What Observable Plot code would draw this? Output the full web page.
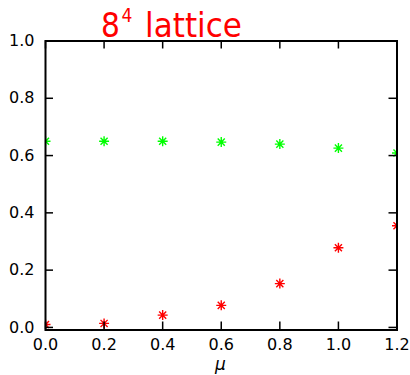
<!DOCTYPE html>
<html>
<head>
<meta charset="utf-8">
<script src="https://cdn.jsdelivr.net/npm/d3@7"></script>
<script src="https://cdn.jsdelivr.net/npm/@observablehq/plot@0.6"></script>
<style>
  html, body { margin: 0; padding: 0; background: #fff; }
  #chart svg { display: block; }
</style>
</head>
<body>
<div id="chart"></div>
<script>
// chemical potential values
const mu = [0, 0.2, 0.4, 0.6, 0.8, 1.0, 1.2];
// upper series (green)
const greenValues = [0.650, 0.650, 0.650, 0.647, 0.640, 0.626, 0.609];
// lower series (red)
const redValues = [0.010, 0.014, 0.043, 0.077, 0.153, 0.278, 0.355];
// axis ticks
const xTicks = [0, 0.2, 0.4, 0.6, 0.8, 1.0, 1.2];
const yTicks = [0, 0.2, 0.4, 0.6, 0.8, 1.0];

const greenData = mu.map((m, i) => ({mu: m, v: greenValues[i]}));
const redData = mu.map((m, i) => ({mu: m, v: redValues[i]}));

// eight-armed asterisk: a plus overlaid with a cross
const asterisk = {
  draw(context, size) {
    const r = Math.sqrt(size / Math.PI);
    const d = r * Math.SQRT1_2;
    context.moveTo(-r, 0); context.lineTo(r, 0);
    context.moveTo(0, -r); context.lineTo(0, r);
    context.moveTo(-d, -d); context.lineTo(d, d);
    context.moveTo(-d, d); context.lineTo(d, -d);
  }
};

const font = "DejaVu Sans, sans-serif";
const W = 410, H = 375;
const mL = 45, mR = 13.5, mT = 40.5, mB = 45.5;
const frameW = W - mL - mR, frameH = H - mT - mB;
const tickLen = 8;

const plot = Plot.plot({
  width: W,
  height: H,
  marginLeft: mL,
  marginRight: mR,
  marginTop: mT,
  marginBottom: mB,
  style: {fontFamily: font, fontSize: "16px", color: "#000", background: "#fff"},
  x: {domain: [0, 1.2]},
  y: {domain: [-0.009, 1.0]},
  marks: [
    Plot.dot(greenData, {x: "mu", y: "v", symbol: asterisk, r: 5, fill: "none", stroke: "#00ff00", strokeWidth: 1.4, clip: true}),
    Plot.dot(redData, {x: "mu", y: "v", symbol: asterisk, r: 5, fill: "none", stroke: "#ff0000", strokeWidth: 1.4, clip: true}),
    // tick labels
    Plot.axisX({ticks: xTicks, tickSize: 0, tickPadding: 9, tickFormat: d3.format(".1f"), label: null}),
    Plot.axisY({ticks: yTicks, tickSize: 0, tickPadding: 11, tickFormat: d3.format(".1f"), label: null}),
    // inward tick marks on all four sides
    Plot.tickX(xTicks, {x: d => d, insetTop: frameH - tickLen, stroke: "#000", strokeWidth: 1.5}),
    Plot.tickX(xTicks, {x: d => d, insetBottom: frameH - tickLen, stroke: "#000", strokeWidth: 1.5}),
    Plot.tickY(yTicks, {y: d => d, insetRight: frameW - tickLen, stroke: "#000", strokeWidth: 1.5}),
    Plot.tickY(yTicks, {y: d => d, insetLeft: frameW - tickLen, stroke: "#000", strokeWidth: 1.5}),
    Plot.frame({stroke: "#000", strokeWidth: 2})
  ]
});

const svg = d3.select(plot);

// title with superscript
const title = svg.append("text")
  .attr("x", 101)
  .attr("y", 37.3)
  .attr("text-anchor", "start")
  .attr("fill", "#ff0000")
  .style("font-family", "'DejaVu Sans Condensed', 'DejaVu Sans', sans-serif")
  .style("font-stretch", "condensed")
  .style("font-size", "33px");
title.append("tspan").text("8");
title.append("tspan").attr("dy", -15.6).attr("dx", 1.5).style("font-size", "19px").text("4");
title.append("tspan").attr("dy", 15.6).attr("dx", 3).style("font-size", "34.5px").text(" lattice");

// x-axis label
svg.append("text")
  .attr("x", 220.5)
  .attr("y", 370)
  .attr("text-anchor", "middle")
  .attr("fill", "#000")
  .style("font-family", font)
  .style("font-style", "italic")
  .style("font-size", "17px")
  .text("μ");

document.getElementById("chart").appendChild(plot);
</script>
</body>
</html>
